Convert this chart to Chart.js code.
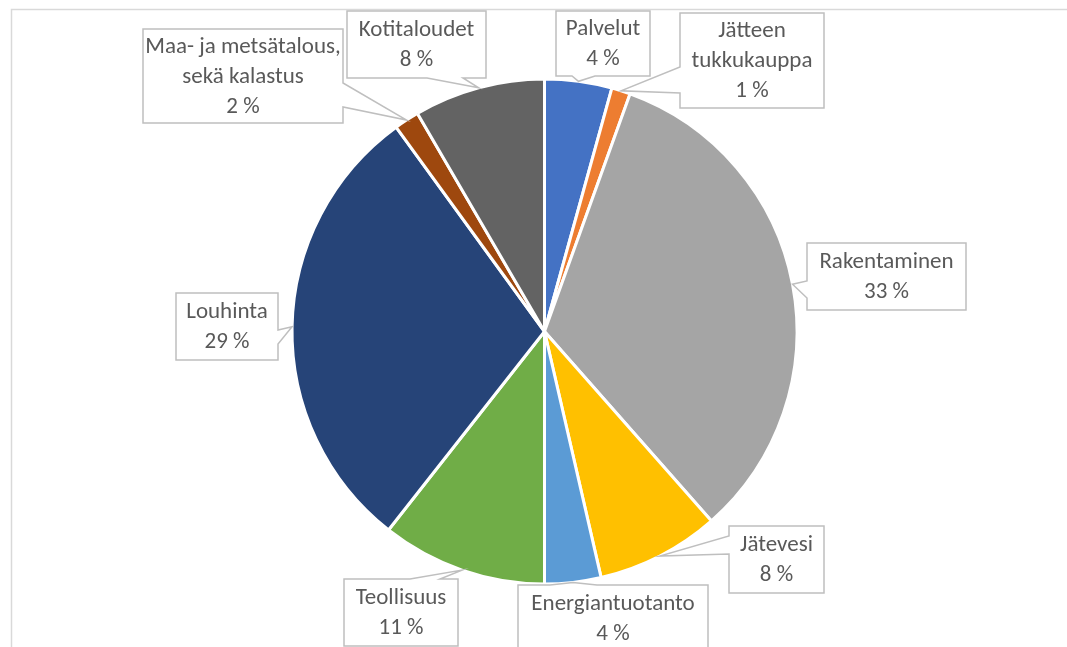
<!DOCTYPE html>
<html>
<head>
<meta charset="utf-8">
<script src="https://cdn.jsdelivr.net/npm/chart.js@4"></script>
<style>
  html, body { margin: 0; padding: 0; background: #fff; }
  #wrap { width: 1067px; height: 647px; position: relative; }
</style>
</head>
<body>
<div id="wrap"><canvas id="chart"></canvas></div>
<script>
// --- Data ---
const labels = [
  ['Palvelut'],
  ['Jätteen', 'tukkukauppa'],
  ['Rakentaminen'],
  ['Jätevesi'],
  ['Energiantuotanto'],
  ['Teollisuus'],
  ['Louhinta'],
  ['Maa- ja metsätalous,', 'sekä kalastus'],
  ['Kotitaloudet']
];
const shares = [4.3, 1.2, 33.0, 7.9, 3.6, 10.6, 29.4, 1.6, 8.4];
const colors = ['#4472C4', '#ED7D31', '#A5A5A5', '#FFC000', '#5B9BD5', '#70AD47', '#264478', '#9E480E', '#636363'];

// --- Callout boxes: [x, y, w, h], edge of the tail, tail base along that edge ---
const callouts = [
  { box: [556, 11, 94, 65], side: 'bottom', base: [572, 595] },
  { box: [680, 13, 144, 95], side: 'left', base: [67, 93] },
  { box: [807, 243, 159, 67], side: 'left', base: [281, 298] },
  { box: [729, 526, 95, 67], side: 'left', base: [536, 554] },
  { box: [518, 585, 190, 67], side: 'top', base: [550, 597] },
  { box: [344, 579, 114, 67], side: 'top', base: [410, 440] },
  { box: [176, 293, 102, 67], side: 'right', base: [330, 344] },
  { box: [143, 29, 200, 94], side: 'right', base: [83, 107] },
  { box: [347, 11, 139, 67], side: 'bottom', base: [427, 463] }
];

const FONT = '23px Carlito, Lato, sans-serif';
const LINE_H = 30;

function calloutPath(ctx, c, tip) {
  const [x, y, w, h] = c.box;
  const [a, b] = c.base;
  let pts;
  if (c.side === 'top') pts = [[x, y], [a, y], tip, [b, y], [x + w, y], [x + w, y + h], [x, y + h]];
  else if (c.side === 'right') pts = [[x, y], [x + w, y], [x + w, a], tip, [x + w, b], [x + w, y + h], [x, y + h]];
  else if (c.side === 'bottom') pts = [[x, y], [x + w, y], [x + w, y + h], [b, y + h], tip, [a, y + h], [x, y + h]];
  else pts = [[x, y], [x + w, y], [x + w, y + h], [x, y + h], [x, b], tip, [x, a]];
  ctx.beginPath();
  pts.forEach((p, i) => i ? ctx.lineTo(p[0], p[1]) : ctx.moveTo(p[0], p[1]));
  ctx.closePath();
}

const framePlugin = {
  id: 'frame',
  beforeDraw(chart) {
    const ctx = chart.ctx;
    ctx.save();
    ctx.strokeStyle = '#d9d9d9';
    ctx.lineWidth = 1.5;
    ctx.beginPath();
    ctx.moveTo(11.5, 647);
    ctx.lineTo(11.5, 9.5);
    ctx.lineTo(1067, 9.5);
    ctx.stroke();
    ctx.restore();
  }
};

const calloutPlugin = {
  id: 'callouts',
  afterDatasetsDraw(chart) {
    const ctx = chart.ctx;
    const arcs = chart.getDatasetMeta(0).data;
    ctx.save();
    arcs.forEach((arc, i) => {
      const c = callouts[i];
      const mid = (arc.startAngle + arc.endAngle) / 2;
      const tip = [arc.x + Math.cos(mid) * arc.outerRadius, arc.y + Math.sin(mid) * arc.outerRadius];
      calloutPath(ctx, c, tip);
      ctx.fillStyle = '#ffffff';
      ctx.fill();
      ctx.strokeStyle = '#bfbfbf';
      ctx.lineWidth = 1.5;
      ctx.stroke();

      const lines = [...labels[i], Math.round(shares[i]) + ' %'];
      const [x, y, w, h] = c.box;
      const cx = x + w / 2;
      const top = y + h / 2 - (lines.length - 1) * LINE_H / 2 + 1;
      ctx.fillStyle = '#595959';
      ctx.font = FONT;
      ctx.textAlign = 'center';
      ctx.textBaseline = 'middle';
      lines.forEach((t, k) => ctx.fillText(t, cx, top + k * LINE_H));
    });
    ctx.restore();
  }
};

new Chart(document.getElementById('chart'), {
  type: 'pie',
  data: {
    labels: labels,
    datasets: [{
      data: shares,
      backgroundColor: colors,
      borderColor: '#ffffff',
      borderWidth: 3
    }]
  },
  options: {
    responsive: true,
    maintainAspectRatio: false,
    animation: false,
    layout: { padding: { top: 77.5, bottom: 61.5, left: 22, right: 0 } },
    plugins: {
      legend: { display: false },
      tooltip: { enabled: false }
    }
  },
  plugins: [framePlugin, calloutPlugin]
});
</script>
</body>
</html>
